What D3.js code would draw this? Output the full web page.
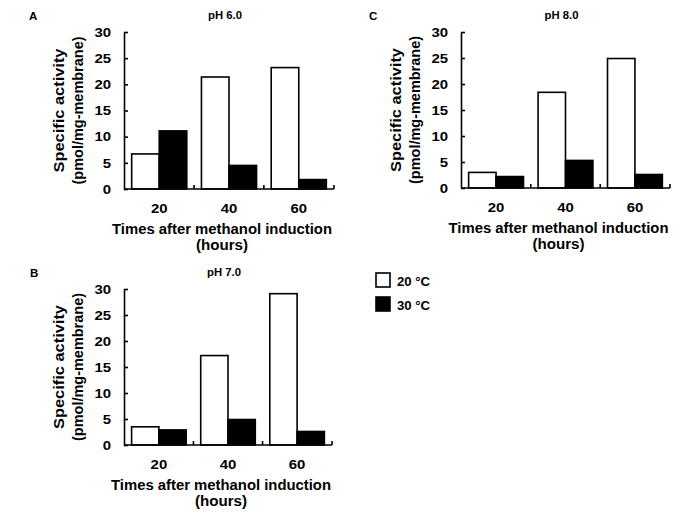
<!DOCTYPE html>
<html>
<head>
<meta charset="utf-8">
<script src="https://cdn.jsdelivr.net/npm/d3@7"></script>
<style>
  body { margin: 0; background: #fff; }
  svg { display: block; }
  text { font-family: "Liberation Sans", Arial, sans-serif; font-weight: bold; fill: #000; }
</style>
</head>
<body>
<svg id="chart" width="685" height="513"></svg>
<script>
// ---- data ----
const categories = ["20", "40", "60"];
const seriesNames = ["20 °C", "30 °C"];
const yTicks = [0, 5, 10, 15, 20, 25, 30];
const panelLetters = ["A", "B", "C"];
const panelTitles = ["pH 6.0", "pH 7.0", "pH 8.0"];
const pH6_20C = [6.7, 21.4, 23.2];
const pH6_30C = [11.1, 4.5, 1.8];
const pH7_20C = [3.5, 17.2, 29.1];
const pH7_30C = [2.9, 4.9, 2.6];
const pH8_20C = [3.0, 18.4, 24.9];
const pH8_30C = [2.2, 5.3, 2.6];
const xLabel = "Times after methanol induction";
const xLabel2 = "(hours)";
const yLabel1 = "Specific activity";
const yLabel2 = "(pmol/mg-membrane)";

const svg = d3.select("#chart");
const seriesFill = ["#ffffff", "#000000"];
const SX = 1.15; // horizontal stretch of the original lettering

// text helper: horizontally stretched text anchored at (x, y)
function txt(g, x, y, str, size, anchor, opts = {}) {
  const sx = opts.sx == null ? SX : opts.sx;
  let tr = `translate(${x},${y}) scale(${sx},1)`;
  if (opts.rotate) tr += ` rotate(${opts.rotate})`;
  const t = g.append("text").attr("transform", tr)
    .attr("text-anchor", anchor || "start")
    .style("font-size", size + "px").text(str);
  if (opts.len) t.attr("textLength", opts.len).attr("lengthAdjust", "spacingAndGlyphs");
  return t;
}

function drawPanel(cfg) {
  const { left, top, width, height, letter, title, s1, s2, letterX } = cfg;
  const g = svg.append("g");
  const y = d3.scaleLinear().domain([0, 30]).range([top + height, top]);
  const x0 = d3.scaleBand().domain(categories).range([left, left + width])
    .paddingInner(0.21).paddingOuter(0.11);
  const x1 = d3.scaleBand().domain(seriesNames).range([0, x0.bandwidth()]);
  const rows = categories.map((c, i) => ({ cat: c, vals: [s1[i], s2[i]] }));

  // bars
  const grp = g.selectAll("g.grp").data(rows).join("g").attr("class", "grp")
    .attr("transform", d => `translate(${x0(d.cat)},0)`);
  grp.selectAll("rect").data(d => d.vals.map((v, j) => ({ v, j })))
    .join("rect")
    .attr("x", d => x1(seriesNames[d.j]))
    .attr("y", d => y(d.v))
    .attr("width", x1.bandwidth())
    .attr("height", d => y(0) - y(d.v))
    .attr("fill", d => seriesFill[d.j])
    .attr("stroke", "#000")
    .attr("stroke-width", 1.6);

  // y axis (inward ticks)
  const yAxis = d3.axisLeft(y).tickValues(yTicks).tickSizeInner(-4).tickSizeOuter(0).tickFormat("");
  const ya = g.append("g").attr("transform", `translate(${left},0)`).call(yAxis);
  ya.select(".domain").attr("stroke", "#000").attr("stroke-width", 1.6);
  ya.selectAll(".tick line").attr("stroke", "#000").attr("stroke-width", 1.6);
  yTicks.forEach(v => txt(g, left - 13, y(v) + 4.8, String(v), 13, "end"));

  // x axis: line with boundary ticks
  const step = x0.step();
  const boundaries = categories.slice(1).map(c => x0(c) - step * x0.paddingInner() / 2);
  boundaries.push(left + width);
  g.append("line")
    .attr("x1", left).attr("x2", left + width)
    .attr("y1", y(0)).attr("y2", y(0))
    .attr("stroke", "#000").attr("stroke-width", 1.6);
  g.selectAll("line.bt").data(boundaries).join("line").attr("class", "bt")
    .attr("x1", d => d).attr("x2", d => d)
    .attr("y1", y(0)).attr("y2", y(0) - 4)
    .attr("stroke", "#000").attr("stroke-width", 1.6);
  categories.forEach(c => txt(g, x0(c) + x0.bandwidth() / 2, y(0) + 24, c, 13, "middle"));

  // x label
  const cx = left + width / 2 - 7;
  txt(g, cx, y(0) + 44.5, xLabel, 14, "middle", { sx: 1, len: 220 });
  txt(g, cx, y(0) + 60.5, xLabel2, 14, "middle", { sx: 1.08 });

  // y label
  const cy = top + height / 2;
  txt(g, left - 60, cy, yLabel1, 14, "middle", { sx: 1.1, rotate: -90, len: 124 });
  txt(g, left - 41, cy, yLabel2, 14, "middle", { sx: 1.1, rotate: -90, len: 148 });

  // title and letter
  txt(g, left + width / 2 - 4, top - 13, title, 11, "middle", { sx: 1.03 });
  txt(g, letterX, top - 12, letter, 11, "start", { sx: 1.05 });
  return g;
}

drawPanel({ left: 124, top: 32, width: 210, height: 157, letter: panelLetters[0], title: panelTitles[0], s1: pH6_20C, s2: pH6_30C, letterX: 29 });
drawPanel({ left: 124, top: 289, width: 208, height: 156, letter: panelLetters[1], title: panelTitles[1], s1: pH7_20C, s2: pH7_30C, letterX: 30 });
drawPanel({ left: 461, top: 32, width: 209, height: 156, letter: panelLetters[2], title: panelTitles[2], s1: pH8_20C, s2: pH8_30C, letterX: 369 });

// legend
const leg = svg.append("g").selectAll("g").data(seriesNames).join("g")
  .attr("transform", (d, i) => `translate(376,${273 + i * 24})`);
leg.append("rect").attr("width", 14).attr("height", 14)
  .attr("fill", (d, i) => seriesFill[i]).attr("stroke", "#000").attr("stroke-width", 1.6);
leg.each(function(d) { txt(d3.select(this), 21, 12.5, d, 12, "start", { sx: 1.1 }); });
</script>
</body>
</html>
